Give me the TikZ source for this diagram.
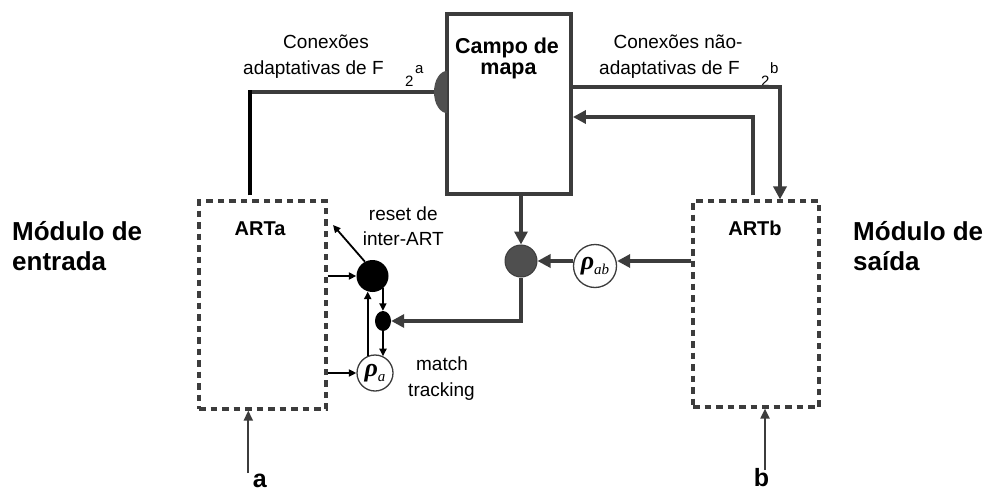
\documentclass[tikz,border=0pt]{standalone}
\usepackage{fontspec}
\setmainfont{Liberation Sans}
\newfontfamily\rhofont{Liberation Serif}
\usetikzlibrary{arrows.meta,shapes.geometric}
\definecolor{dg}{HTML}{3C3C3C}
\definecolor{fillg}{HTML}{4F4F4F}
\newcommand\rhosym[1]{{\rhofont\bfseries\itshape\fontsize{26}{26}\selectfont ρ}{\rhofont\itshape\fontsize{15}{15}\selectfont\raisebox{-5pt}{#1}}}
\begin{document}
\begin{tikzpicture}[x=1pt,y=-1pt,
  lbl/.style={inner sep=0pt, font=\fontsize{19}{22}\selectfont},
  supl/.style={inner sep=0pt, font=\fontsize{15}{17}\selectfont},
  bigl/.style={inner sep=0pt, font=\bfseries\fontsize{26}{30}\selectfont},
  artl/.style={inner sep=0pt, font=\bfseries\fontsize{20}{24}\selectfont},
  campol/.style={inner sep=0pt, font=\bfseries\fontsize{21.5}{25}\selectfont},
  iol/.style={inner sep=0pt, font=\bfseries\fontsize{25}{28}\selectfont},
  mapbox/.style={draw=dg, line width=3.8pt, minimum width=124pt, minimum height=180pt, inner sep=0pt},
  dbox/.style={draw=dg, line width=3.2pt, dash pattern=on 6.5pt off 5pt, inner sep=0pt},
  thk/.style={draw=dg, line width=3.8pt},
  thkarr/.style={thk, -{Triangle[length=13pt,width=13pt]}},
  thinarr/.style={draw=black, line width=1.8pt, -{Triangle[length=7.5pt,width=7pt]}},
  inarr/.style={draw=dg, line width=2pt, -{Triangle[length=10pt,width=9pt]}},
  blackdot/.style={circle, fill=black, inner sep=0pt, minimum size=32pt},
  graydot/.style={circle, fill=fillg, draw=dg, line width=1pt, inner sep=0pt, minimum size=32pt},
  rhonode/.style={circle, draw=dg, fill=white, line width=1.3pt, inner sep=0pt},
]
\useasboundingbox[fill=white] (0,0) rectangle (987,492);

% boxes
\node[mapbox] (campo) at (509,104) {};
\node[campol, anchor=base] (campo1) at (507,53.3) {Campo de};
\node[campol, anchor=base] (campo2) at (508.5,75) {mapa};

\node[dbox, minimum width=127pt, minimum height=208pt] (artA) at (262.5,305) {};
\node[dbox, minimum width=126pt, minimum height=206pt] (artB) at (756,304) {};
\node[artl, anchor=base] (artAl) at (260,235.7) {ARTa};
\node[artl, anchor=base] (artBl) at (755,235.7) {ARTb};

% side labels
\node[bigl, anchor=base west] (me1) at (12,240) {Módulo de};
\node[bigl, anchor=base west] (me2) at (12,270) {entrada};
\node[bigl, anchor=base west] (ms1) at (853,240) {Módulo de};
\node[bigl, anchor=base west] (ms2) at (853,270) {saída};

% connection labels
\node[lbl, anchor=base] (cl1) at (326,48.3) {Conexões};
\node[lbl, anchor=base west] (cl2) at (243,75) {adaptativas de F};
\node[supl, anchor=base west] (cl3) at (405,87) {2};
\node[supl, anchor=base west] (cl4) at (415,74) {a};
\node[lbl, anchor=base] (cr1) at (678,48.3) {Conexões não-};
\node[lbl, anchor=base west] (cr2) at (599,75) {adaptativas de F};
\node[supl, anchor=base west] (cr3) at (761,87) {2};
\node[supl, anchor=base west] (cr4) at (770,74) {b};

% small nodes
\node[blackdot] (bigc) at (372.5,276) {};
\node[ellipse, fill=black, inner sep=0pt, minimum width=16pt, minimum height=20pt] (smallE) at (383,321) {};
\node[rhonode, minimum size=36pt] (rhoA) at (375,373) {\rhosym{a}};
\node[graydot] (grayc) at (521,261) {};
\node[rhonode, minimum size=43pt] (rhoAB) at (595,266) {\rhosym{ab}};

\node[lbl, anchor=base] (rs1) at (403.3,220) {reset de};
\node[lbl, anchor=base] (rs2) at (403.3,245) {inter-ART};
\node[lbl, anchor=base] (mt1) at (442,370) {match};
\node[lbl, anchor=base] (mt2) at (441.5,396.7) {tracking};

% inputs
\node[iol, anchor=base] (inA) at (259.7,487) {a};
\node[iol, anchor=base] (inB) at (761.5,486) {b};
\coordinate (aStart) at (248.3,473);
\coordinate (bStart) at (765,470);
\draw[inarr] (aStart) -- (aStart |- artA.south);
\draw[inarr] (bStart) -- (bStart |- artB.south);

% top-left adaptive connection
\coordinate (tl) at (250,92);
\coordinate (jL) at (447,92);
\draw[thk, shorten <=-2pt] (tl) -- (jL);
\draw[line width=4.2pt, black, shorten <=4pt, shorten >=-1.9pt] (artA.north -| tl) -- (tl);
\fill[fillg] (jL) ++(0,21) arc[start angle=90, end angle=270, x radius=13, y radius=21] -- cycle;

% top-right connections
\coordinate (tr) at (780,87);
\draw[thkarr] (campo.east |- tr) -- (tr) -- (tr |- artB.north);
\coordinate (mr) at (753,117);
\draw[thkarr, shorten <=4pt] (mr |- artB.north) -- (mr) -- (campo.east |- mr);

% central connections
\draw[thkarr] (grayc.north |- campo.south) -- (grayc.north);
\draw[thkarr] (artB.west |- grayc) -- (rhoAB.east |- grayc);
\draw[thkarr] (rhoAB.west |- grayc) -- (grayc.east);
\draw[thkarr] (grayc.south) |- (smallE.east);

% match tracking loop
\coordinate (rtip) at (333,225);
\draw[thinarr] (artA.east |- bigc) -- (bigc.west);
\draw[thinarr] (artA.east |- rhoA) -- (rhoA.west);
\draw[thinarr] (bigc.118) -- (rtip);
\draw[thinarr] (bigc.-50) -- (bigc.-50 |- smallE.north);
\draw[thinarr] (smallE.south) -- (smallE.south |- rhoA.64);
\draw[thinarr] (rhoA.113) -- (rhoA.113 |- bigc.-106);
\end{tikzpicture}
\end{document}
